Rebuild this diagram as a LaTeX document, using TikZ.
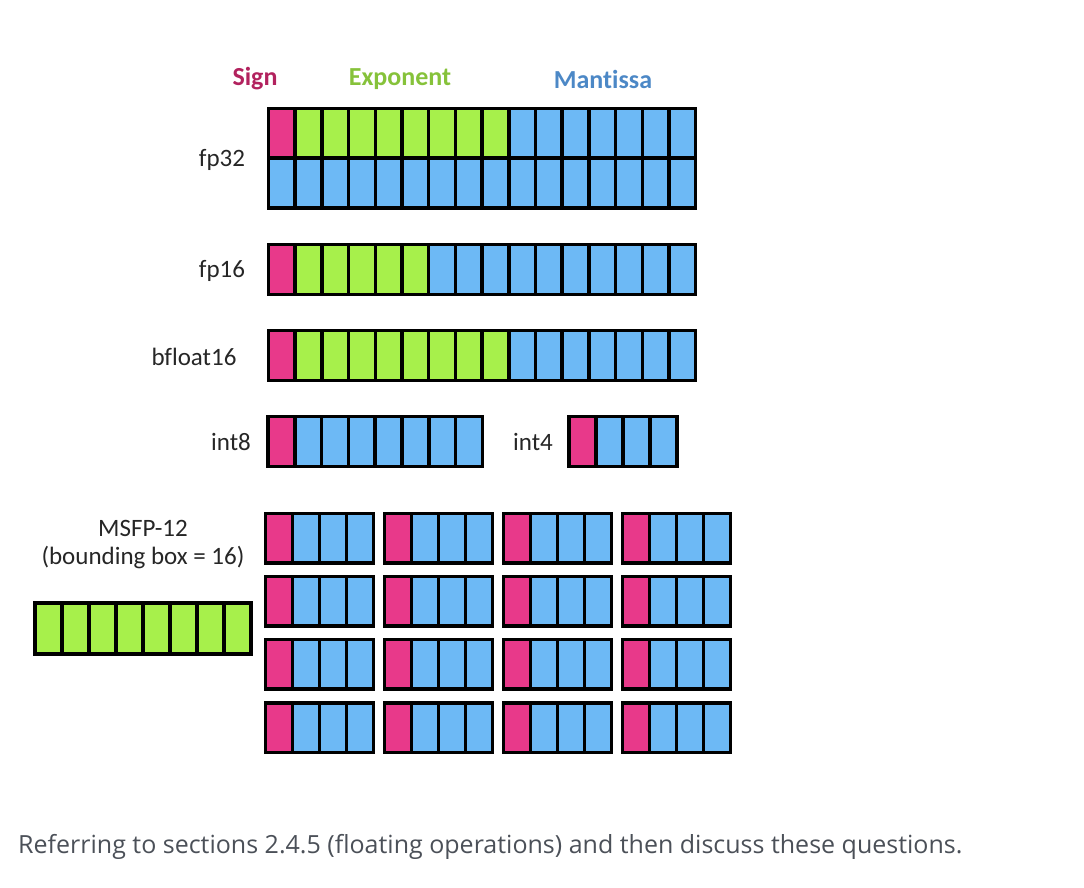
\documentclass[tikz,border=0pt]{standalone}
\usepackage{fontspec}
\setmainfont{Carlito}[Ligatures=NoCommon]
\newfontfamily\bottomfont{Open Sans}
\definecolor{sgncol}{HTML}{E8398A}
\definecolor{expcol}{HTML}{A7F04B}
\definecolor{mancol}{HTML}{6DB9F5}
\definecolor{sgntxt}{HTML}{B2225E}
\definecolor{exptxt}{HTML}{86C23A}
\definecolor{mantxt}{HTML}{4C88C6}
\definecolor{bottomtxt}{HTML}{4B5058}
\tikzset{
  cell/.style={draw=black, line width=3.5pt, line join=miter},
  lbl/.style={font=\fontsize{25}{30}\selectfont, text=black!85, inner sep=0pt},
  head/.style={font=\fontsize{26}{30}\selectfont\bfseries, inner sep=0pt},
}
% x y width height nSign nExp nMant
\newcommand\bitrow[7]{%
  \pgfmathtruncatemacro\bitN{#5+#6+#7-1}%
  \pgfmathtruncatemacro\bitA{#5}%
  \pgfmathtruncatemacro\bitB{#5+#6}%
  \foreach \i in {0,...,\bitN}{%
    \ifnum\i<\bitA\relax\def\bitfill{sgncol}\else\ifnum\i<\bitB\relax\def\bitfill{expcol}\else\def\bitfill{mancol}\fi\fi
    \draw[cell, fill=\bitfill] ({#1+\i*#3},#2) rectangle ++(#3,#4);
  }}
\begin{document}
\begin{tikzpicture}[x=1pt,y=-1pt]
\useasboundingbox (0,0) rectangle (1084,888);
% headers
\node[head, text=sgntxt] (hsign) at (255,79) {Sign};
\node[head, text=exptxt] (hexp) at (400,79) {Exponent};
\node[head, text=mantxt] (hman) at (603,79) {Mantissa};
% fp32
\bitrow{268.5}{108.5}{26.7}{49.5}{1}{8}{7}
\bitrow{268.5}{158}{26.7}{50}{0}{0}{16}
\node[lbl] (lfp32) at (222,160) {fp32};
% fp16
\bitrow{268.5}{244.5}{26.7}{50}{1}{5}{10}
\node[lbl] (lfp16) at (222,271) {fp16};
% bfloat16
\bitrow{268.5}{330.5}{26.7}{50}{1}{8}{7}
\node[lbl] (lbf16) at (194,357) {bfloat16};
% int8
\bitrow{268}{416.5}{26.8}{50}{1}{0}{7}
\node[lbl] (lint8) at (231,442) {int8};
% int4
\bitrow{569}{416.5}{27}{50}{1}{0}{3}
\node[lbl] (lint4) at (533,442) {int4};
% MSFP-12
\node[lbl] (lmsfp) at (143,528) {MSFP-12};
\node[lbl] (lbbox) at (143,558) {(bounding box = 16)};
\bitrow{35}{603}{27}{51}{0}{8}{0}
\foreach \bx in {265.5,384.5,503.5,622.5}{
  \foreach \by in {513.5,576.5,639.5,703}{
    \bitrow{\bx}{\by}{27}{49.5}{1}{0}{3}
  }
}
% caption
\node[inner sep=0pt, anchor=west, text=bottomtxt, font=\bottomfont\fontsize{25}{30}\selectfont] (caption) at (18,847) {Referring to sections 2.4.5 (floating operations) and then discuss these questions.};
\end{tikzpicture}
\end{document}
